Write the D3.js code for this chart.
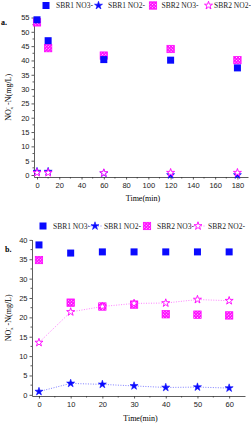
<!DOCTYPE html>
<html>
<head>
<meta charset="utf-8">
<script src="https://cdn.jsdelivr.net/npm/d3@7"></script>
<style>
  body { margin: 0; background: #fff; }
  svg { display: block; font-family: "Liberation Serif", "DejaVu Serif", serif; }
  .tick text { font-size: 7.5px; fill: #222; }
  .domain, .tick line { stroke: #333; stroke-width: 0.8; }
</style>
</head>
<body>
<svg id="chart" width="251" height="424"></svg>
<script>
// Painel a: tempos e concentrações (mg/L)
const timesA = [0, 10, 60, 120, 180];
const sbr1No3A = [54.2, 46.9, 40.3, 40.1, 37.4];
const sbr1No2A = [1.2, 1.2, 0.6, 0.0, 0.0];
const sbr2No3A = [53.3, 44.3, 41.7, 44.0, 40.1];
const sbr2No2A = [0.8, 0.8, 0.7, 0.8, 0.8];
const xTicksA = [0, 20, 40, 60, 80, 100, 120, 140, 160, 180];
const yTicksA = [0, 5, 10, 15, 20, 25, 30, 35, 40, 45, 50, 55];

// Painel b
const timesB = [0, 10, 20, 30, 40, 50, 60];
const sbr1No3B = [38.7, 36.6, 36.9, 36.9, 36.9, 36.9, 36.9];
const sbr1No2B = [0.85, 2.95, 2.7, 2.3, 1.9, 2.0, 1.75];
const sbr2No3B = [34.8, 23.8, 22.8, 23.3, 20.8, 20.7, 20.5];
const sbr2No2B = [13.5, 21.4, 22.8, 23.6, 23.7, 24.6, 24.3];
const xTicksB = [0, 10, 20, 30, 40, 50, 60];
const yTicksB = [0, 5, 10, 15, 20, 25, 30, 35, 40];

const legendNames = ["SBR1 NO3-", "SBR1 NO2-", "SBR2 NO3-", "SBR2 NO2-"];

const BLUE = "#0a0aff";
const PINK = "#ff00ff";

const svg = d3.select("#chart");

// padrão quadriculado (em X) do marcador "SBR2 NO3-"
const defs = svg.append("defs");
const pat = defs.append("pattern").attr("id", "chk")
  .attr("width", 2.2).attr("height", 2.2).attr("patternUnits", "userSpaceOnUse")
  .attr("patternTransform", "rotate(45)");
pat.append("rect").attr("width", 2.2).attr("height", 2.2).attr("fill", PINK);
pat.append("rect").attr("x", 0.6).attr("y", 0.6).attr("width", 1).attr("height", 1).attr("fill", "#fff");

const starPath = d3.symbol().type(d3.symbolStar).size(20)();

function drawSquare(g, x, y) {
  g.append("rect").attr("x", x - 3.5).attr("y", y - 3.5).attr("width", 7).attr("height", 7)
    .attr("fill", BLUE);
}
function drawCheck(g, x, y) {
  g.append("rect").attr("x", x - 3.7).attr("y", y - 3.7).attr("width", 7.4).attr("height", 7.4)
    .attr("fill", "url(#chk)").attr("stroke", PINK).attr("stroke-width", 0.7);
}
function drawStarBlue(g, x, y) {
  g.append("path").attr("d", starPath).attr("transform", `translate(${x},${y})`)
    .attr("fill", BLUE).attr("stroke", BLUE).attr("stroke-width", 0.6);
}
function drawStarPink(g, x, y) {
  g.append("path").attr("d", starPath).attr("transform", `translate(${x},${y})`)
    .attr("fill", "#fff").attr("stroke", PINK).attr("stroke-width", 0.9);
}

function panel(cfg) {
  const { x, y, xMinor, yMinor, xTicks, yTicks, times, series, lines, tag, tagPos, titleY, labelX } = cfg;
  const g = svg.append("g");

  const xAxis = d3.axisBottom(x).tickValues(xTicks).tickSize(2.5).tickPadding(3).tickSizeOuter(0);
  const yAxis = d3.axisLeft(y).tickValues(yTicks).tickSize(2.5).tickPadding(2).tickSizeOuter(0);

  const gx = g.append("g").attr("transform", `translate(0,${y.range()[0]})`).call(xAxis);
  gx.selectAll(".minor").data(xMinor).join("line").attr("class", "minor")
    .attr("x1", (d) => x(d)).attr("x2", (d) => x(d)).attr("y1", 0).attr("y2", 1.5)
    .attr("stroke", "#333").attr("stroke-width", 0.8);

  const gy = g.append("g").attr("transform", `translate(${x.range()[0]},0)`).call(yAxis);
  gy.selectAll(".minor").data(yMinor).join("line").attr("class", "minor")
    .attr("y1", (d) => y(d)).attr("y2", (d) => y(d)).attr("x1", 0).attr("x2", -1.5)
    .attr("stroke", "#333").attr("stroke-width", 0.8);

  // linhas pontilhadas (só painel b)
  lines.forEach((l) => {
    g.append("path").datum(times.map((t, i) => [t, l.values[i]]))
      .attr("fill", "none").attr("stroke", l.color).attr("stroke-width", 1)
      .attr("stroke-dasharray", "1,1.5")
      .attr("d", d3.line().x((d) => x(d[0])).y((d) => y(d[1])));
  });

  series.forEach((s) => {
    times.forEach((t, i) => s.draw(g, x(t), y(s.values[i])));
  });

  // títulos
  g.append("text").attr("x", (x.range()[0] + x.range()[1]) / 2 + 2).attr("y", titleY)
    .attr("text-anchor", "middle").style("font-size", "8px").text("Time(min)");

  const yl = g.append("text")
    .attr("transform", `translate(${labelX},${(y.range()[0] + y.range()[1]) / 2}) rotate(-90)`)
    .attr("text-anchor", "middle").style("font-size", "8px");
  yl.append("tspan").text("NO");
  yl.append("tspan").attr("dy", -3).style("font-size", "5px").text("-");
  yl.append("tspan").attr("dy", 5).attr("dx", -2).style("font-size", "5px").text("x");
  yl.append("tspan").attr("dy", -2).text(" -N(mg/L)");

  g.append("text").attr("x", tagPos[0]).attr("y", tagPos[1])
    .style("font-size", "8px").style("font-weight", "bold").text(tag);
}

// ---------- painel a ----------
const xA = d3.scaleLinear().domain([-2.7, 189.5]).range([34, 248]);
const yA = d3.scaleLinear().domain([-0.7, 55]).range([177, 17.5]);
panel({
  x: xA, y: yA, xTicks: xTicksA, yTicks: yTicksA,
  xMinor: d3.range(10, 190, 20), yMinor: d3.range(2.5, 55, 5),
  times: timesA, lines: [],
  series: [
    { values: sbr1No2A, draw: drawStarBlue },
    { values: sbr2No2A, draw: drawStarPink },
    { values: sbr2No3A, draw: drawCheck },
    { values: sbr1No3A, draw: drawSquare },
  ],
  tag: "a.", tagPos: [1, 25], titleY: 201, labelX: 11,
});

// ---------- painel b ----------
const xB = d3.scaleLinear().domain([-2.2, 65]).range([32, 245]);
const yB = d3.scaleLinear().domain([-0.3, 40.1]).range([396, 239.5]);
panel({
  x: xB, y: yB, xTicks: xTicksB, yTicks: yTicksB,
  xMinor: d3.range(5, 65, 10), yMinor: d3.range(2.5, 40, 5),
  times: timesB,
  lines: [
    { values: sbr1No2B, color: "#7f7fff" },
    { values: sbr2No2B, color: "#ff80ff" },
  ],
  series: [
    { values: sbr1No3B, draw: drawSquare },
    { values: sbr2No3B, draw: drawCheck },
    { values: sbr2No2B, draw: drawStarPink },
    { values: sbr1No2B, draw: drawStarBlue },
  ],
  tag: "b.", tagPos: [5, 252], titleY: 421, labelX: 11,
});

// ---------- legendas ----------
function legend(y0, items) {
  const g = svg.append("g");
  items.forEach((it) => {
    if (it.line) {
      g.append("line").attr("x1", it.mx - 7).attr("x2", it.mx + 7).attr("y1", y0).attr("y2", y0)
        .attr("stroke", it.line).attr("stroke-width", 1).attr("stroke-dasharray", "1,1.5");
    }
    it.draw(g, it.mx, y0);
    g.append("text").attr("x", it.tx).attr("y", y0 + 2.8)
      .style("font-size", "7.5px").style("fill", "#222").text(it.name);
  });
}
legend(5.5, [
  { mx: 46, tx: 56, name: legendNames[0], draw: drawSquare },
  { mx: 98.5, tx: 108, name: legendNames[1], draw: drawStarBlue },
  { mx: 153, tx: 161.5, name: legendNames[2], draw: drawCheck },
  { mx: 208.5, tx: 214, name: legendNames[3], draw: drawStarPink },
]);
legend(226, [
  { mx: 43, tx: 53, name: legendNames[0], draw: drawSquare },
  { mx: 95, tx: 104, name: legendNames[1], line: "#7f7fff", draw: drawStarBlue },
  { mx: 147, tx: 157, name: legendNames[2], draw: drawCheck },
  { mx: 198, tx: 208, name: legendNames[3], line: "#ff80ff", draw: drawStarPink },
]);
</script>
</body>
</html>
